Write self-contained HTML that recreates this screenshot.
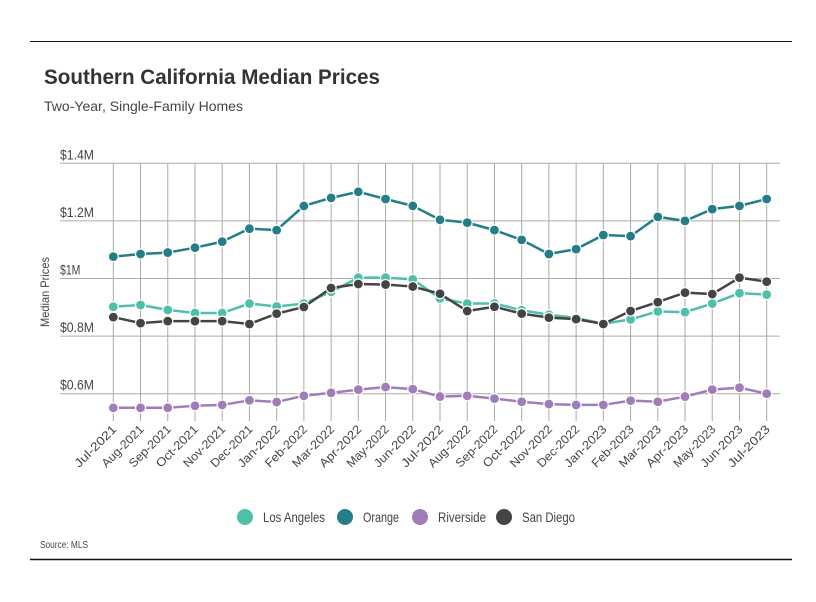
<!DOCTYPE html>
<html><head><meta charset="utf-8"><style>
body{margin:0;background:#fff;font-family:"Liberation Sans",sans-serif;}
svg text{font-family:"Liberation Sans",sans-serif;}
</style></head><body>
<svg id="chart" width="816" height="597">
<line x1="30" y1="41.5" x2="792" y2="41.5" stroke="#111" stroke-width="1"/>
<line x1="30" y1="559.5" x2="792" y2="559.5" stroke="#111" stroke-width="1.5"/>
<text x="44" y="84" font-size="21" font-weight="bold" fill="#333" textLength="336" lengthAdjust="spacingAndGlyphs">Southern California Median Prices</text>
<text x="44" y="111" font-size="14" fill="#444" textLength="199" lengthAdjust="spacingAndGlyphs">Two-Year, Single-Family Homes</text>
<text transform="translate(49,292) rotate(-90)" text-anchor="middle" font-size="12" fill="#444" textLength="70" lengthAdjust="spacingAndGlyphs">Median Prices</text>
<text x="40" y="548" font-size="10" fill="#444" textLength="48" lengthAdjust="spacingAndGlyphs">Source: MLS</text>
<g id="grid"></g><g id="series"></g><g id="legend"></g>
</svg>
<script>
const months=["Jul-2021","Aug-2021","Sep-2021","Oct-2021","Nov-2021","Dec-2021","Jan-2022","Feb-2022","Mar-2022","Apr-2022","May-2022","Jun-2022","Jul-2022","Aug-2022","Sep-2022","Oct-2022","Nov-2022","Dec-2022","Jan-2023","Feb-2023","Mar-2023","Apr-2023","May-2023","Jun-2023","Jul-2023"];
const yTicks=[0.6,0.8,1.0,1.2,1.4];
const yTickLabels=["$0.6M","$0.8M","$1M","$1.2M","$1.4M"];
const seriesNames=["Los Angeles","Orange","Riverside","San Diego"];
const seriesColors=["#4dbfaa","#237e87","#a07cb9","#444444"];
const losAngeles=[0.902,0.908,0.891,0.880,0.880,0.913,0.903,0.913,0.954,1.003,1.003,0.997,0.931,0.913,0.913,0.890,0.874,0.863,0.843,0.858,0.886,0.883,0.913,0.949,0.944];
const orange=[1.076,1.085,1.090,1.107,1.128,1.173,1.168,1.252,1.280,1.301,1.276,1.252,1.204,1.194,1.168,1.134,1.085,1.102,1.151,1.147,1.214,1.200,1.241,1.252,1.276];
const riverside=[0.551,0.551,0.551,0.558,0.561,0.577,0.571,0.593,0.603,0.614,0.623,0.616,0.590,0.593,0.583,0.572,0.564,0.561,0.561,0.576,0.572,0.590,0.614,0.621,0.600];
const sanDiego=[0.866,0.845,0.852,0.852,0.852,0.842,0.878,0.901,0.967,0.981,0.979,0.972,0.947,0.887,0.902,0.878,0.864,0.859,0.842,0.887,0.918,0.951,0.946,1.003,0.989];
const allSeries=[losAngeles,orange,riverside,sanDiego];
const NS="http://www.w3.org/2000/svg";
const X0=113.3,X1=766.7,Y14=163.3,PXM=288;
function xs(i){return X0+i*(X1-X0)/(months.length-1);}
function ys(v){return Y14+(1.4-v)*PXM;}
function mk(t,a,p){const e=document.createElementNS(NS,t);for(const k in a)e.setAttribute(k,a[k]);p.appendChild(e);return e;}
const grid=document.getElementById('grid');
yTicks.forEach((v,i)=>{
 const l=mk('line',{x1:60,x2:780,y1:ys(v),y2:ys(v),stroke:'#aaa','stroke-width':1},grid);
 
 
 const t=mk('text',{x:60,y:ys(v)-4,'font-size':14,fill:'#444',textLength:yTickLabels[i].length*6.8,lengthAdjust:'spacingAndGlyphs'},grid);t.textContent=yTickLabels[i];
 
 
});
months.forEach((m,i)=>{
 const l=mk('line',{x1:xs(i),x2:xs(i),y1:ys(1.4),y2:421,stroke:'#aaa','stroke-width':1},grid);
 
 
 const t=mk('text',{transform:`translate(${xs(i)+4},${430}) rotate(-45)`,'text-anchor':'end','font-size':12,fill:'#444',textLength:54,lengthAdjust:'spacingAndGlyphs'},grid);t.textContent=m;
 
 
});
const sg=document.getElementById('series');
allSeries.forEach((vals,s)=>{
 const g=mk('g',{},sg);
 
 
 const p=mk('polyline',{points:vals.map((v,i)=>xs(i)+','+ys(v)).join(' '),fill:'none',stroke:seriesColors[s],'stroke-width':2.5},g);
 
 
 vals.forEach((v,i)=>{
  const c=mk('circle',{cx:xs(i),cy:ys(v),r:5,fill:seriesColors[s],stroke:'#fff','stroke-width':1.2},g);
  
  
 });
});
const lg=document.getElementById('legend');
const lx=[245,345,420,504],lw=[62,36,48,53];
seriesNames.forEach((n,s)=>{
 const g=mk('g',{},lg);
 
 
 mk('circle',{cx:lx[s],cy:517,r:8,fill:seriesColors[s]},g);
 const t=mk('text',{x:lx[s]+18,y:522,'font-size':14,fill:'#444',textLength:lw[s],lengthAdjust:'spacingAndGlyphs'},g);t.textContent=n;
});
</script>
</body></html>
